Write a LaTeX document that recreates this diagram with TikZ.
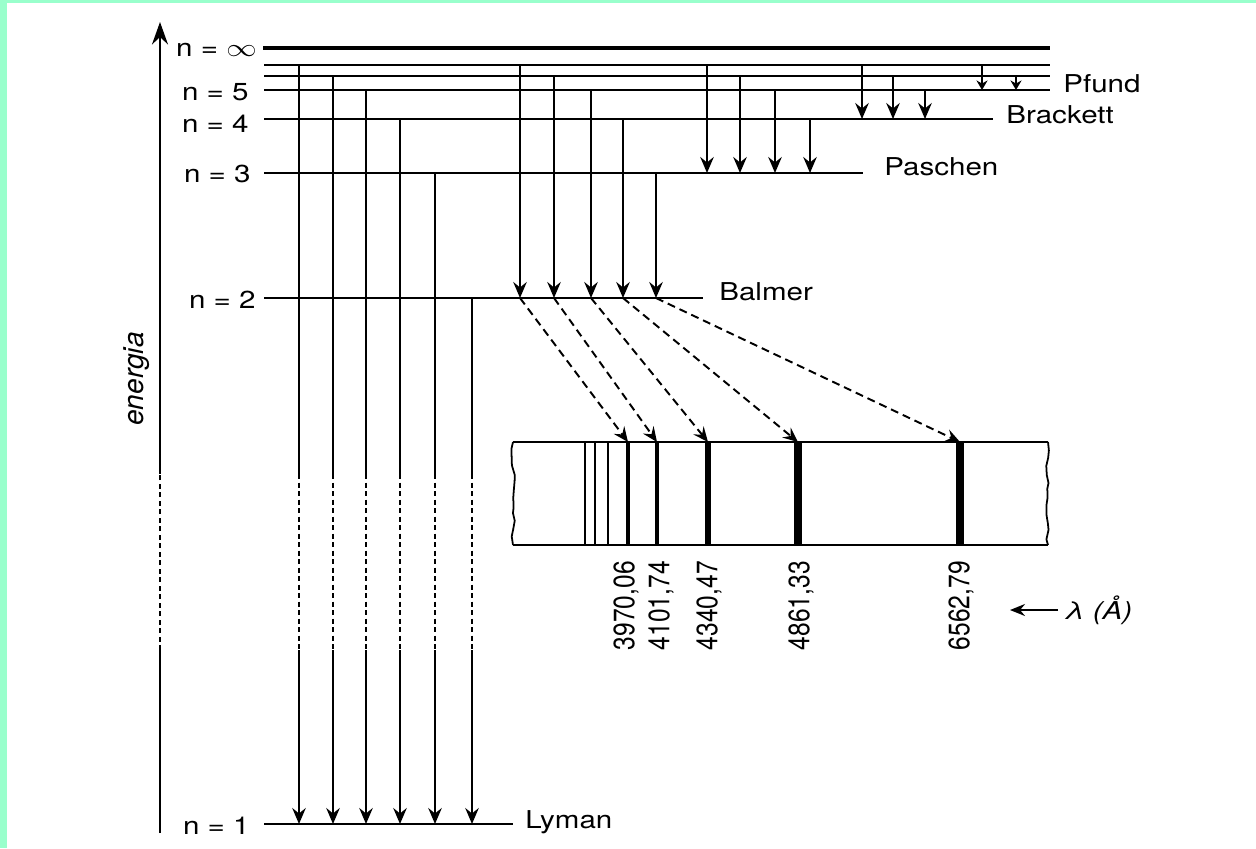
\documentclass[tikz,border=0pt]{standalone}
\usepackage{fontspec}
\setmainfont{TeX Gyre Heros}
\usetikzlibrary{arrows.meta,decorations.pathmorphing}
\definecolor{mint}{RGB}{153,255,204}

\begin{document}
\begin{tikzpicture}[x=0.2mm, y=-0.2mm, line width=1.3pt,
	trans/.style={-{Stealth[length=3.2mm, width=2.7mm, inset=1.1mm]}},
	small trans/.style={line width=1pt, -{Stealth[length=1.9mm, width=2.2mm, inset=0.6mm]}},
	broken/.style={dash pattern=on 1mm off 0.7mm},
	photon/.style={line width=1.1pt, dash pattern=on 1.6mm off 1mm, -{Stealth[length=3mm, width=2.6mm, inset=1.1mm]}},
	lbl/.style={font=\fontsize{14}{16}\selectfont, inner sep=0pt, xscale=1.2},
	wl/.style={font=\fontsize{14}{16}\selectfont, inner sep=0pt, xscale=1.2, rotate=90, anchor=east},
	torn/.style={decorate, decoration={random steps, segment length=1.6mm, amplitude=0.35mm}}]
	% background
	\fill[white] (0,0) rectangle (1256,848);
	\fill[mint] (0,0) rectangle (7,848);
	\fill[mint] (0,0) rectangle (1256,3);

	% energy axis
	\draw (160,833) -- (160,650);
	\draw[broken] (160,650) -- (160,474);
	\draw[-{Stealth[length=4.5mm, width=3.2mm, inset=1.5mm]}] (160,474) -- (160,22);
	\node[font=\fontsize{16}{18}\selectfont\itshape, rotate=90] (energia) at (137,379) {energia};

	% levels
	\draw[line width=2.8pt] (263,48) -- (1050,48);
	\foreach \y/\xe in {65/1050, 76/1050, 90/1050, 119/993, 173/863, 298/703, 824/513}
		\draw (264,\y) -- (\xe,\y);
	\node[lbl, anchor=east] (ninf) at (258,50) {n = $\infty$};
	\node[lbl, anchor=east] (n5) at (250,92) {n = 5};
	\node[lbl, anchor=east] (n4) at (250,124) {n = 4};
	\node[lbl, anchor=east] (n3) at (252,174) {n = 3};
	\node[lbl, anchor=east] (n2) at (257,300) {n = 2};
	\node[lbl, anchor=east] (n1) at (251,826) {n = 1};

	% series
	\node[lbl, anchor=west] (pfund) at (1062,84) {Pfund};
	\node[lbl, anchor=west] (brackett) at (1005,115) {Brackett};
	\node[lbl, anchor=west] (paschen) at (883,167) {Paschen};
	\node[lbl, anchor=west] (balmer) at (718,292) {Balmer};
	\node[lbl, anchor=west] (lyman) at (524,822) {Lyman};

	% Lyman
	\foreach \x/\y in {299/65, 333/76, 366/90, 400/119, 435/173, 472/298} {
		\draw (\x,\y) -- (\x,474);
		\draw[broken] (\x,474) -- (\x,650);
		\draw[trans] (\x,650) -- (\x,824);
	}
	% Balmer
	\foreach \x/\y in {520/65, 554/76, 591/90, 623/119, 656/173}
		\draw[trans] (\x,\y) -- (\x,298);
	% Paschen
	\foreach \x/\y in {707/65, 740/76, 775/90, 810/119}
		\draw[trans] (\x,\y) -- (\x,173);
	% Brackett
	\foreach \x/\y in {862/65, 893/76, 925/90}
		\draw[trans] (\x,\y) -- (\x,119);
	% Pfund
	\foreach \x/\y in {982/65, 1016/76}
		\draw[small trans] (\x,\y) -- (\x,90);

	% spectrum
	\draw (513,442) -- (1048,442);
	\draw (513,545) -- (1048,545);
	\draw[torn, line width=1pt] (513,442) -- (513,545);
	\draw[torn, line width=1pt] (1048,442) -- (1048,545);
	\foreach \x/\w in {585/1.4, 595/1.4, 608/1.4, 628/1.8, 657/2.8, 708/3.4, 798/4, 960/5}
		\draw[line width=\w pt] (\x,442) -- (\x,545);
	\foreach \a/\b in {520/628, 554/657, 591/708, 623/798, 656/960}
		\draw[photon] (\a,298) -- (\b,442);
	\foreach \x/\lab in {626/{3970,06}, 661/{4101,74}, 709/{4340,47}, 801/{4861,33}, 961/{6562,79}}
		\node[wl] (wl\x) at (\x,560) {\lab};

	% wavelength direction
	\node[lbl, font=\fontsize{14}{16}\selectfont\itshape, anchor=west] (lambda) at (1063,610) {λ (Å)};
	\coordinate (lambdatip) at (1010,610);
	\draw[shorten <=1mm, -{Stealth[length=3mm, width=2.4mm, inset=1mm]}] (lambda.west) -- (lambdatip);
\end{tikzpicture}
\end{document}
